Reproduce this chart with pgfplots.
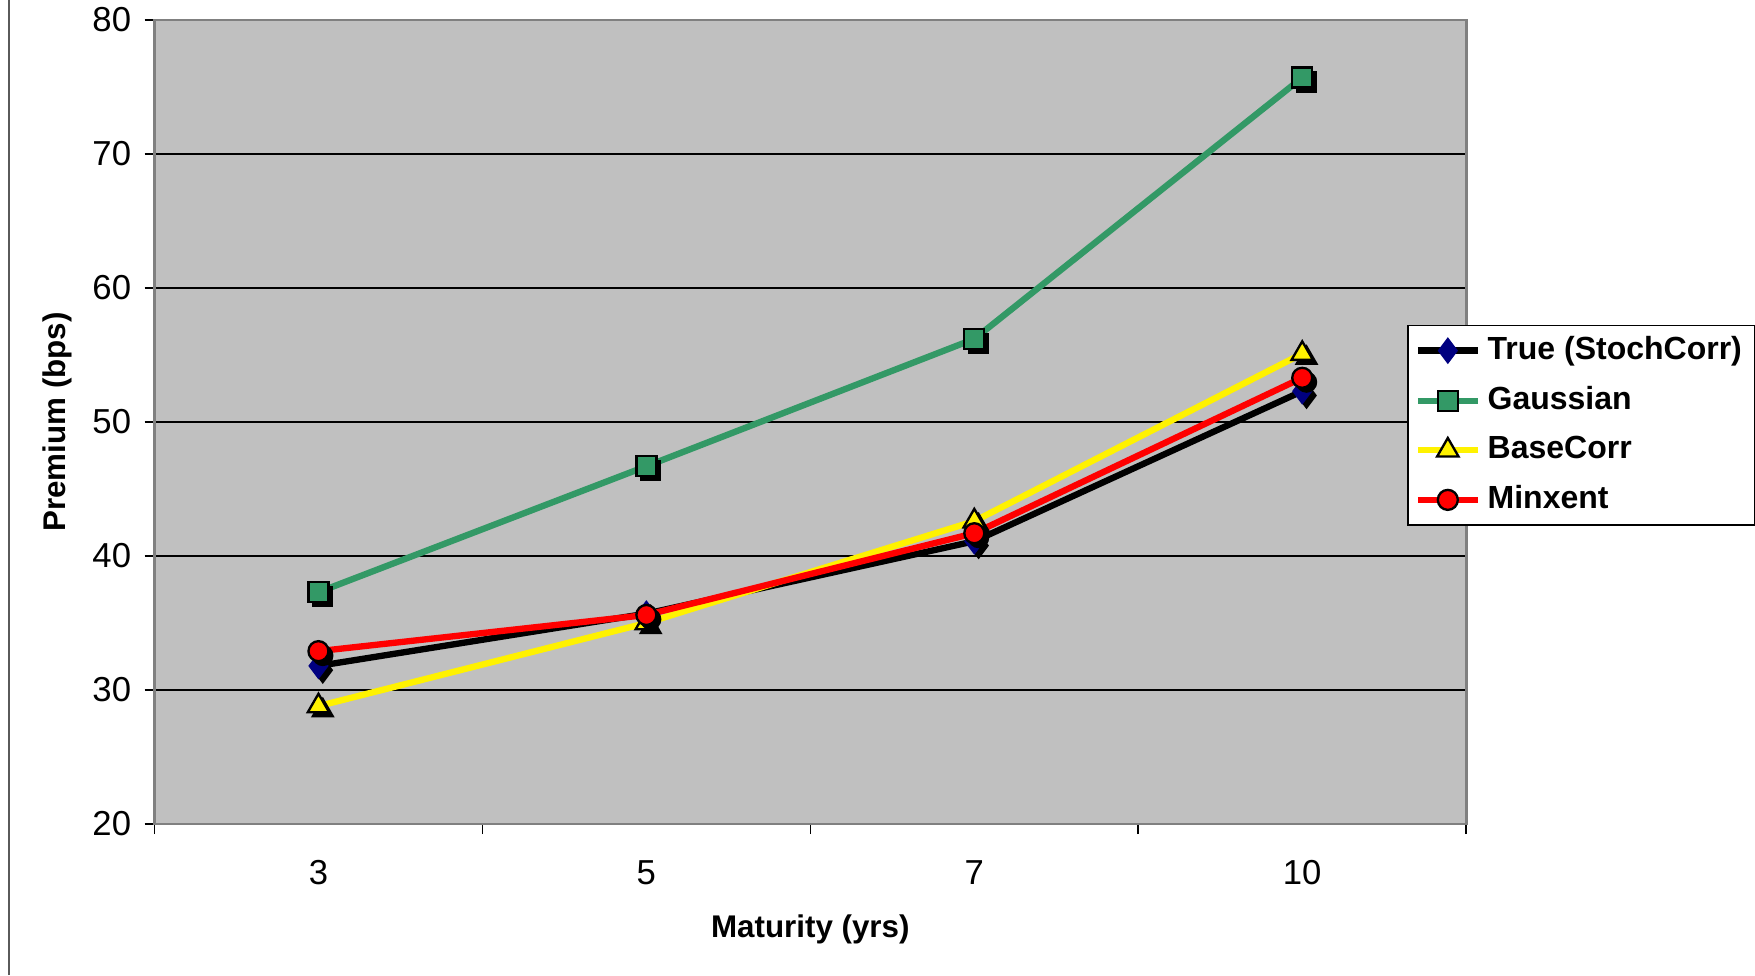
\documentclass[border=0pt]{standalone}
\usepackage{pgfplots}
\pgfplotsset{compat=1.18}
\usepackage{pgfplotstable}
\usepackage{fontspec}
\setmainfont{Liberation Sans}
\definecolor{bgGray}{HTML}{C0C0C0}
\definecolor{gGreen}{HTML}{339966}
\definecolor{frameGray}{HTML}{808080}
\definecolor{navyM}{HTML}{000080}
\pgfplotstableread{
x true gauss base minx
0 31.8 37.3 28.8 32.9
1 35.7 46.7 35.0 35.6
2 41.1 56.2 42.6 41.7
3 52.3 75.7 55.1 53.3
}\data
\begin{document}
\begin{tikzpicture}
\useasboundingbox (-46.35pt,-45.3pt) rectangle ++(526.5pt,292.5pt);
\draw[frameGray!70!black, line width=0.6pt] (-43.65pt,-45.3pt) -- ++(0,292.5pt);
\begin{axis}[
  at={(0,0)}, anchor=south west,
  scale only axis, width=393.5pt, height=241.2pt,
  xmin=-0.5, xmax=3.5, ymin=20, ymax=80,
  axis background/.style={fill=bgGray},
  axis line style={draw=frameGray, line width=0.8pt},
  ytick={20,30,...,80},
  xtick={-0.5,0.5,1.5,2.5,3.5}, xticklabels={},
  extra x ticks={0,1,2,3}, extra x tick labels={3,5,7,10},
  extra x tick style={major tick length=0pt, xticklabel style={yshift=-7.4pt}},
  tick align=outside, major tick length=3pt,
  tick style={black, line width=0.5pt},
  xtick pos=bottom, ytick pos=left,
  ymajorgrids, major grid style={black, line width=0.45pt},
  /pgf/number format/assume math mode=true,
  ticklabel style={font=\fontsize{10.4}{12}\selectfont},
  yticklabel style={xshift=-0.5pt},
  xlabel={Maturity (yrs)}, ylabel={Premium (bps)},
  every axis x label/.style={at={(axis description cs:0.5,0)}, anchor=center, yshift=-31.5pt, font=\bfseries\fontsize{9.4}{11}\selectfont},
  every axis y label/.style={at={(axis description cs:0,0.5)}, anchor=center, xshift=-29pt, rotate=90, font=\bfseries\fontsize{9.4}{11}\selectfont},
  clip=false,
  legend style={at={(rel axis cs:0.955,0.621)}, anchor=north west, draw=black, fill=white,
    line width=0.5pt, font=\bfseries\fontsize{9.6}{11}\selectfont,
    row sep=2.55pt, inner xsep=2pt, inner ysep=1.3pt, legend cell align=left},
  legend image code/.code={\draw[#1, mark repeat=2, mark phase=2] plot coordinates {(0pt,0pt) (9pt,0pt) (18pt,0pt)};},
]
% shadows
\addplot[forget plot, only marks, mark=diamond*, black, mark size=3.8pt, mark options={xshift=1.3pt, yshift=-1.3pt}] table[x=x,y=true]{\data};
\addplot[line width=1.9pt, black, mark=diamond*, mark size=3.8pt, mark options={fill=navyM, draw=navyM, line width=0.3pt, solid}] table[x=x,y=true]{\data};
\addlegendentry{True (StochCorr)}
\addplot[forget plot, only marks, mark=square*, black, mark size=3pt, mark options={xshift=1.3pt, yshift=-1.3pt}] table[x=x,y=gauss]{\data};
\addplot[line width=1.9pt, gGreen, mark=square*, mark size=3pt, mark options={fill=gGreen, draw=black, line width=0.7pt, solid}] table[x=x,y=gauss]{\data};
\addlegendentry{Gaussian}
\addplot[forget plot, only marks, mark=triangle*, black, mark size=3.7pt, mark options={xshift=1.3pt, yshift=-1.3pt}] table[x=x,y=base]{\data};
\addplot[line width=1.9pt, yellow, mark=triangle*, mark size=3.7pt, mark options={fill=yellow, draw=black, line width=0.7pt, solid}] table[x=x,y=base]{\data};
\addlegendentry{BaseCorr}
\addplot[forget plot, only marks, mark=*, black, mark size=3pt, mark options={xshift=1.3pt, yshift=-1.3pt}] table[x=x,y=minx]{\data};
\addplot[line width=1.9pt, red, mark=*, mark size=3pt, mark options={fill=red, draw=black, line width=0.7pt, solid}] table[x=x,y=minx]{\data};
\addlegendentry{Minxent}
\end{axis}
\end{tikzpicture}
\end{document}
